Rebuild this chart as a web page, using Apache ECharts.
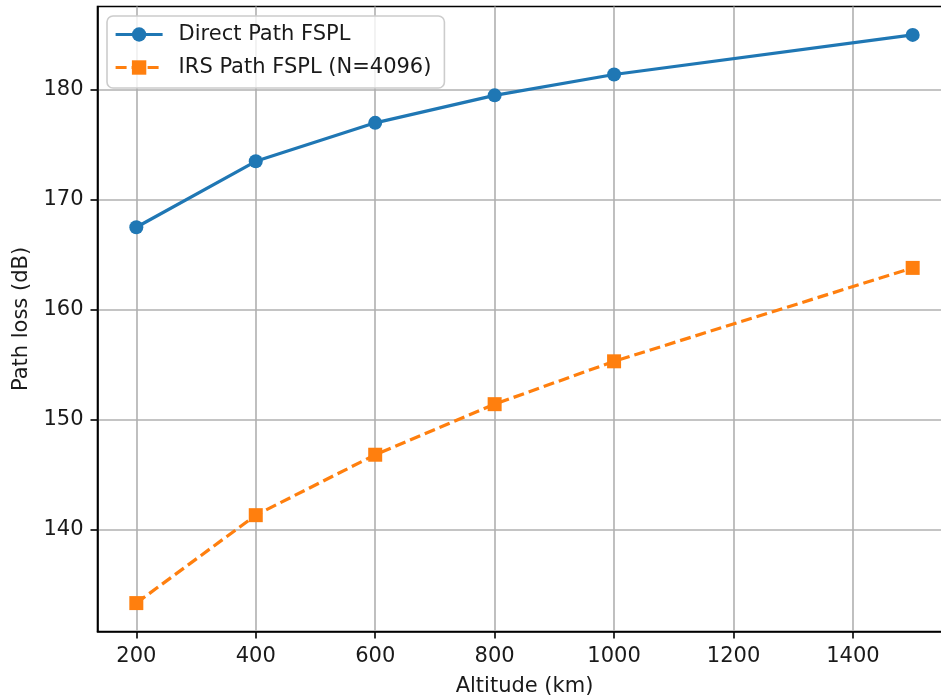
<!DOCTYPE html>
<html>
<head>
<meta charset="utf-8">
<script src="https://cdn.jsdelivr.net/npm/echarts@6/dist/echarts.min.js"></script>
<style>
html,body{margin:0;padding:0;background:#fff;}
#chart{width:941px;height:699px;}
</style>
</head>
<body>
<div id="chart"></div>
<script>
const altitudes = [200, 400, 600, 800, 1000, 1500];
const directFSPL = [167.5, 173.5, 177.0, 179.5, 181.4, 185.0];
const irsFSPL = [133.3, 141.3, 146.8, 151.4, 155.3, 163.8];
const xTicks = [200, 400, 600, 800, 1000, 1200, 1400];
const yTicks = [140, 150, 160, 170, 180];
const seriesNames = ['Direct Path FSPL', 'IRS Path FSPL (N=4096)'];
const xName = 'Altitude (km)';
const yName = 'Path loss (dB)';

const FONT = 'DejaVu Sans';
const FS = 21;
const allY = directFSPL.concat(irsFSPL);
const yLo = Math.min(...allY), yHi = Math.max(...allY);
const yPad = (yHi - yLo) * 0.05;
const xLo = Math.min(...altitudes), xHi = Math.max(...altitudes);
const xPad = (xHi - xLo) * 0.05;

const chart = echarts.init(document.getElementById('chart'), null, {renderer: 'canvas'});
const axisCommon = {
  axisLine: {show: true, onZero: false, lineStyle: {color: '#000', width: 1.6}},
  axisTick: {show: true, inside: false, length: 7, lineStyle: {color: '#000', width: 1.6}},
  splitLine: {show: true, lineStyle: {color: '#b0b0b0', width: 1.6}},
  nameLocation: 'middle',
  nameTextStyle: {fontFamily: FONT, fontSize: FS, color: '#1a1a1a'}
};
chart.setOption({
  animation: false,
  backgroundColor: '#fff',
  grid: {left: 97.5, top: 6.5, width: 854, height: 625, containLabel: false, outerBoundsMode: 'none', show: true, borderColor: '#000', borderWidth: 1.6, backgroundColor: 'transparent'},
  legend: {
    show: true,
    left: 107, top: 16,
    orient: 'vertical',
    padding: [8, 13, 10, 7],
    itemWidth: 47, itemHeight: 18, itemGap: 12,
    backgroundColor: 'rgba(255,255,255,0.8)',
    borderColor: '#cccccc', borderWidth: 1.6, borderRadius: 6,
    lineStyle: {width: 3.2},
    textStyle: {fontFamily: FONT, fontSize: FS, color: '#1a1a1a', padding: [0, 0, 0, 11]},
    data: seriesNames
  },
  xAxis: Object.assign({}, axisCommon, {
    type: 'value', min: xLo - xPad, max: xHi + xPad,
    name: xName, nameGap: 45,
    axisTick: Object.assign({}, axisCommon.axisTick, {customValues: xTicks}),
    axisLabel: {customValues: xTicks, fontFamily: FONT, fontSize: FS, color: '#1a1a1a', margin: 15, formatter: v => String(v)}
  }),
  yAxis: Object.assign({}, axisCommon, {
    type: 'value', min: yLo - yPad, max: yHi + yPad,
    name: yName, nameGap: 62,
    axisTick: Object.assign({}, axisCommon.axisTick, {customValues: yTicks}),
    axisLabel: {customValues: yTicks, fontFamily: FONT, fontSize: FS, color: '#1a1a1a', margin: 14, formatter: v => String(v)}
  }),
  series: [
    {
      name: seriesNames[0], type: 'line',
      data: altitudes.map((x, i) => [x, directFSPL[i]]),
      symbol: 'circle', symbolSize: 14,
      lineStyle: {color: '#1f77b4', width: 3.2},
      itemStyle: {color: '#1f77b4'},
      z: 3
    },
    {
      name: seriesNames[1], type: 'line',
      data: altitudes.map((x, i) => [x, irsFSPL[i]]),
      symbol: 'rect', symbolSize: 14,
      lineStyle: {color: '#ff7f0e', width: 3.2, type: [11, 5]},
      itemStyle: {color: '#ff7f0e'},
      z: 3
    }
  ]
});
</script>
</body>
</html>
